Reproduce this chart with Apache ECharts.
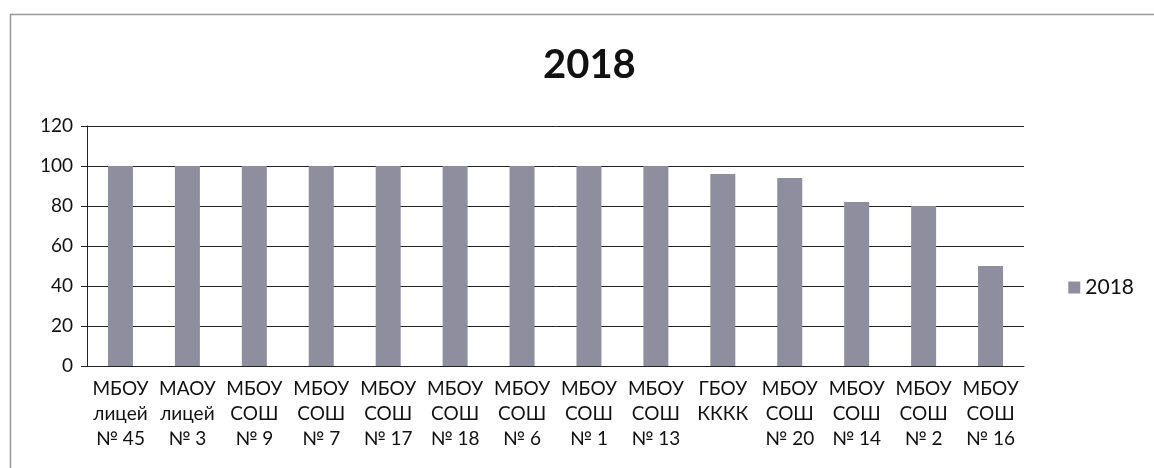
<!DOCTYPE html>
<html><head><meta charset="utf-8">
<script src="https://cdn.jsdelivr.net/npm/echarts@6/dist/echarts.min.js"></script>
<style>html,body{margin:0;padding:0;background:#fff}#c{width:1154px;height:468px}</style>
</head><body><div id="c"></div>
<script>
const categories = ["МБОУ\nлицей\n№ 45","МАОУ\nлицей\n№ 3","МБОУ\nСОШ\n№ 9","МБОУ\nСОШ\n№ 7","МБОУ\nСОШ\n№ 17","МБОУ\nСОШ\n№ 18","МБОУ\nСОШ\n№ 6","МБОУ\nСОШ\n№ 1","МБОУ\nСОШ\n№ 13","ГБОУ\nКККК\n","МБОУ\nСОШ\n№ 20","МБОУ\nСОШ\n№ 14","МБОУ\nСОШ\n№ 2","МБОУ\nСОШ\n№ 16"];
const values2018 = [100,100,100,100,100,100,100,100,100,96,94,82,80,50];
const yTicks = {min:0, max:120, interval:20};
const chart = echarts.init(document.getElementById('c'));
const font = 'Lato, "Open Sans", sans-serif';
chart.setOption({
  animation:false,
  graphic:[{type:'rect',shape:{x:10.5,y:14.5,width:1200,height:500},style:{fill:'none',stroke:'#999',lineWidth:1.5}}],
  title:{text:'2018',left:538,top:40,textStyle:{fontFamily:font,fontSize:40,fontWeight:'bold',color:'#111'}},
  legend:{data:['2018'],right:15,top:272,icon:'rect',itemWidth:12,itemHeight:12,itemGap:8,textStyle:{fontFamily:font,fontSize:21,color:'#111'}},
  grid:{left:87,right:130,top:126,bottom:102,containLabel:false},
  xAxis:{type:'category',data:categories,
    axisLine:{lineStyle:{color:'#222',width:1}},axisTick:{show:false},
    axisLabel:{interval:0,fontFamily:font,fontSize:19,color:'#111',lineHeight:25,margin:10}},
  yAxis:{type:'value',min:yTicks.min,max:yTicks.max,interval:yTicks.interval,
    axisLine:{show:true,lineStyle:{color:'#222'}},axisTick:{show:true,length:6,lineStyle:{color:'#222'}},
    splitLine:{lineStyle:{color:'#222',width:1}},
    axisLabel:{fontFamily:font,fontSize:19,color:'#111',margin:14}},
  series:[{name:'2018',type:'bar',data:values2018,barWidth:25,itemStyle:{color:'#8e8e9e'}}]
});
</script></body></html>
